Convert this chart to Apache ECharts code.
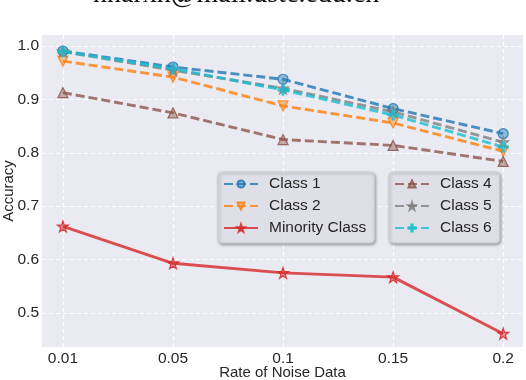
<!DOCTYPE html>
<html>
<head>
<meta charset="utf-8">
<script src="https://cdn.jsdelivr.net/npm/echarts@6/dist/echarts.min.js"></script>
<style>html,body{margin:0;padding:0;background:#fff;}#c{width:526px;height:380px;}</style>
</head>
<body>
<div id="c"></div>
<script>
const categories = ['0.01', '0.05', '0.1', '0.15', '0.2'];
const yTicks = [0.5, 0.6, 0.7, 0.8, 0.9, 1.0];
const class1 = [0.991, 0.961, 0.938, 0.883, 0.836];
const class2 = [0.972, 0.942, 0.888, 0.856, 0.803];
const minority = [0.662, 0.593, 0.575, 0.567, 0.461];
const class4 = [0.913, 0.875, 0.825, 0.814, 0.784];
const class5 = [0.990, 0.955, 0.921, 0.877, 0.820];
const class6 = [0.990, 0.958, 0.918, 0.871, 0.811];
const seriesNames = ['Class 1', 'Class 2', 'Minority Class', 'Class 4', 'Class 5', 'Class 6'];

const STAR = 'path://M50,0 L61.8,35.1 L98.9,35.1 L69.1,57.3 L80.3,92.7 L50,70.9 L19.7,92.7 L30.9,57.3 L1.1,35.1 L38.2,35.1 Z';
const PLUS = 'path://M40,0 H60 V40 H100 V60 H60 V100 H40 V60 H0 V40 H40 Z';

function rgba(hex, a) {
  const n = parseInt(hex.slice(1), 16);
  return 'rgba(' + (n >> 16) + ',' + ((n >> 8) & 255) + ',' + (n & 255) + ',' + a + ')';
}
function mk(name, vals, color, dashed, symbol, size, rotate) {
  return {
    name: name,
    type: 'line',
    data: vals.map((v, i) => [i, v]),
    symbol: symbol,
    symbolSize: size,
    symbolRotate: rotate || 0,
    lineStyle: { color: rgba(color, 0.8), width: 2.9, type: dashed ? [9, 4] : 'solid' },
    itemStyle: { color: rgba(color, 0.45), borderColor: rgba(color, 0.85), borderWidth: 1.2 },
    emphasis: { disabled: true },
    animation: false
  };
}

const chart = echarts.init(document.getElementById('c'), null, { renderer: 'canvas' });
const font = 'Liberation Sans';
const legendCommon = {
  orient: 'vertical',
  itemWidth: 34,
  itemHeight: 9,
  itemGap: 6,
  padding: [4, 8, 7, 5],
  backgroundColor: 'rgba(234,234,242,0.85)',
  borderColor: '#cccccc',
  borderWidth: 1,
  borderRadius: 4,
  shadowColor: 'rgba(0,0,0,0.35)',
  shadowBlur: 3,
  shadowOffsetX: 1,
  shadowOffsetY: 1.5,
  textStyle: { fontFamily: font, fontSize: 15.5, lineHeight: 16, color: '#262626', padding: [0, 0, 0, 6] },
  selectedMode: false
};
chart.setOption({
  backgroundColor: '#ffffff',
  textStyle: { fontFamily: font },
  graphic: [{
    type: 'text', left: 93, top: -19, silent: true,
    style: { text: 'nnarxn@mail.ustc.edu.cn', font: '28px "Liberation Serif"', fill: '#111' }
  }],
  grid: {
    left: 42, right: 3, top: 35, bottom: 33,
    outerBoundsMode: 'none', containLabel: false,
    show: true, backgroundColor: '#EAEAF2', borderWidth: 0
  },
  xAxis: {
    type: 'value', min: -0.19, max: 4.18,
    name: 'Rate of Noise Data', nameLocation: 'middle', nameGap: 18, nameMoveOverlap: false,
    nameTextStyle: { fontFamily: font, fontSize: 15, color: '#262626' },
    axisLine: { show: false },
    axisTick: { show: false, customValues: [0, 1, 2, 3, 4] },
    axisLabel: { customValues: [0, 1, 2, 3, 4], formatter: v => categories[Math.round(v)], fontSize: 15.5, color: '#262626', margin: 4 },
    splitLine: { show: true, lineStyle: { color: '#ffffff', width: 1.2, type: [4, 3] } }
  },
  yAxis: {
    type: 'value', min: 0.436, max: 1.021,
    name: 'Accuracy', nameLocation: 'middle', nameGap: 26, nameRotate: 90, nameMoveOverlap: false,
    nameTextStyle: { fontFamily: font, fontSize: 15, color: '#262626' },
    axisLine: { show: false },
    axisTick: { show: false, customValues: yTicks },
    axisLabel: { customValues: yTicks, formatter: v => v.toFixed(1), fontSize: 15.5, color: '#262626', margin: 3 },
    splitLine: { show: true, lineStyle: { color: '#ffffff', width: 1.2, type: [4, 3] } }
  },
  legend: [
    Object.assign({}, legendCommon, { left: 218, top: 172, data: seriesNames.slice(0, 3) }),
    Object.assign({}, legendCommon, { left: 389, top: 172, data: seriesNames.slice(3) })
  ],
  series: [
    mk('Class 1', class1, '#1f77b4', true, 'circle', 10),
    mk('Class 2', class2, '#ff7f0e', true, 'triangle', 10, 180),
    mk('Minority Class', minority, '#d62728', false, STAR, 11),
    mk('Class 4', class4, '#8c564b', true, 'triangle', 10),
    mk('Class 5', class5, '#7f7f7f', true, STAR, 11),
    mk('Class 6', class6, '#17becf', true, PLUS, 10)
  ]
});
</script>
</body>
</html>
